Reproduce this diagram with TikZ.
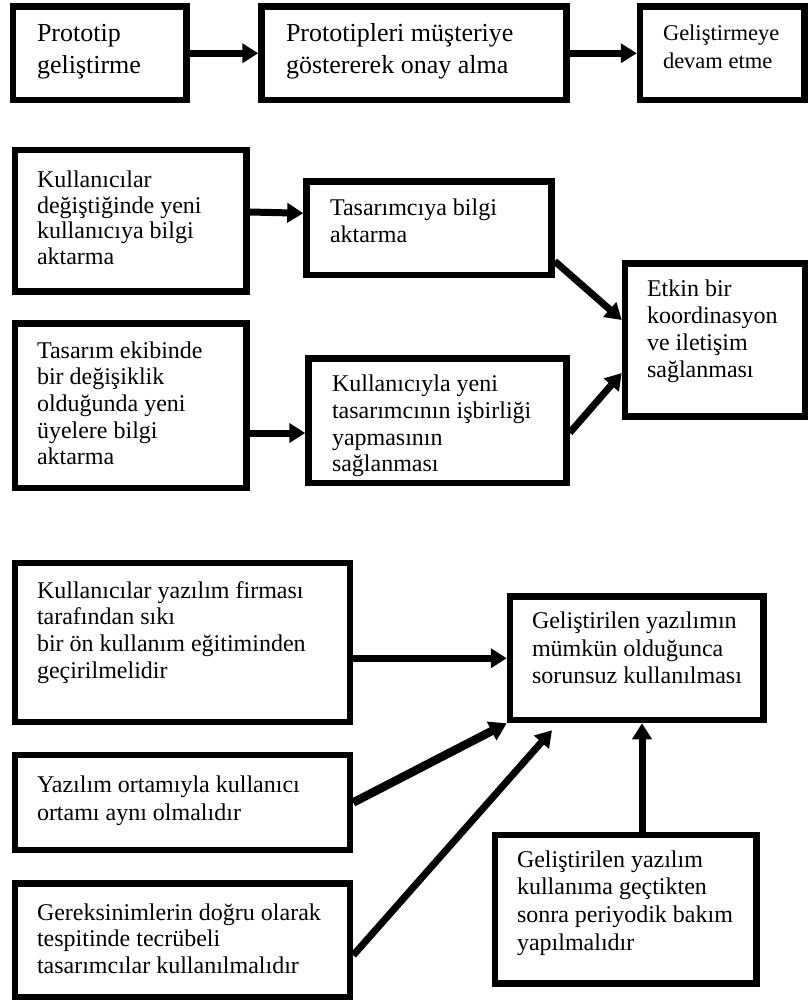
\documentclass[tikz,border=0pt]{standalone}
\usepackage{fontspec}
\setmainfont{Liberation Serif}
\usetikzlibrary{arrows.meta}
\newcommand\bt[3]{\raisebox{#1}[\height][\depth]{\makebox[#2][l]{\begin{tabular}{@{}l@{}}#3\end{tabular}}}}
\begin{document}
\begin{tikzpicture}[x=1pt,y=-1pt,
  box/.style={draw, line width=6.5pt, inner sep=0pt, anchor=center},
  arr/.style={line width=7pt, -{Triangle[length=16pt,width=19pt]}},
  thickarr/.style={line width=8.5pt, -{Triangle[length=17pt,width=20pt]}}]
\useasboundingbox (0,0) rectangle (808,1001);
% top row
\node[box, minimum width=173.5pt, minimum height=93.5pt, font=\fontsize{26}{31.6}\selectfont] (b1) at (99.75,53.25)
  {\bt{2pt}{125.5pt}{Prototip\\geliştirme}};
\node[box, minimum width=305pt, minimum height=93.5pt, font=\fontsize{26}{31.6}\selectfont] (b2) at (414,53.25)
  {\bt{2pt}{256pt}{Prototipleri müşteriye\\göstererek onay alma}};
\node[box, minimum width=164.5pt, minimum height=93.5pt, font=\fontsize{22.5}{28}\selectfont] (b3) at (722.25,53.25)
  {\bt{4.85pt}{118.5pt}{Geliştirmeye\\devam etme}};
% middle
\node[box, minimum width=231.5pt, minimum height=141.5pt, font=\fontsize{24}{25.7}\selectfont] (b4) at (130.75,220.75)
  {\bt{0pt}{187.5pt}{Kullanıcılar\\değiştiğinde yeni\\kullanıcıya bilgi\\aktarma}};
\node[box, minimum width=245pt, minimum height=93.5pt, font=\fontsize{24}{27}\selectfont] (b5) at (429,228.25)
  {\bt{5pt}{198pt}{Tasarımcıya bilgi\\aktarma}};
\node[box, minimum width=180pt, minimum height=153pt, font=\fontsize{24}{26.7}\selectfont] (b6) at (715,340)
  {\bt{8.3pt}{136pt}{Etkin bir\\koordinasyon\\ve iletişim\\sağlanması}};
\node[box, minimum width=231.5pt, minimum height=164.5pt, font=\fontsize{24}{26.7}\selectfont] (b7) at (130.75,405.75)
  {\bt{-0.4pt}{187.5pt}{Tasarım ekibinde\\bir değişiklik\\olduğunda yeni\\üyelere bilgi\\aktarma}};
\node[box, minimum width=258pt, minimum height=124.5pt, font=\fontsize{24}{26.7}\selectfont] (b8) at (437.5,420.75)
  {\bt{-5.7pt}{211pt}{Kullanıcıyla yeni\\tasarımcının işbirliği\\yapmasının\\sağlanması}};
% bottom
\node[box, minimum width=335pt, minimum height=159pt, font=\fontsize{24}{26.7}\selectfont] (b9) at (182.5,642.5)
  {\bt{9.6pt}{291pt}{Kullanıcılar yazılım firması\\tarafından sıkı\\bir ön kullanım eğitiminden\\geçirilmelidir}};
\node[box, minimum width=253.5pt, minimum height=123.5pt, font=\fontsize{24}{27.5}\selectfont] (b10) at (636.75,658.25)
  {\bt{7.75pt}{209.5pt}{Geliştirilen yazılımın\\mümkün olduğunca\\sorunsuz kullanılması}};
\node[box, minimum width=335pt, minimum height=95pt, font=\fontsize{24}{28}\selectfont] (b11) at (182.5,802.5)
  {\bt{2.1pt}{291pt}{Yazılım ortamıyla kullanıcı\\ortamı aynı olmalıdır}};
\node[box, minimum width=335pt, minimum height=113.5pt, font=\fontsize{24}{26.7}\selectfont] (b12) at (182.5,940.25)
  {\bt{-1.1pt}{291pt}{Gereksinimlerin doğru olarak\\tespitinde tecrübeli\\tasarımcılar kullanılmalıdır}};
\node[box, minimum width=261.5pt, minimum height=148.5pt, font=\fontsize{24}{27.7}\selectfont] (b13) at (625.75,909.25)
  {\bt{6pt}{217.5pt}{Geliştirilen yazılım\\kullanıma geçtikten\\sonra periyodik bakım\\yapılmalıdır}};
% connectors
\draw[arr] (b1.east) -- (b2.west);
\draw[arr] (b2.east) -- (b3.west);
\draw[arr] ([yshift=8.75pt]b4.east) -- ([yshift=15pt]b5.west);
\draw[arr] ([yshift=17pt]b5.south east) -- ([yshift=20pt]b6.west);
\draw[arr] ([yshift=-12pt]b8.east) -- ([yshift=-33pt]b6.west);
\draw[arr] ([yshift=-27.25pt]b7.east) -- ([yshift=-12.25pt]b8.west);
\draw[arr] (b9.east |- b10.west) -- (b10.west);
\draw[thickarr] (b11.east) -- (b10.south west);
\draw[arr] ([yshift=-15pt]b12.east) -- ([xshift=-84.75pt,yshift=-7pt]b10.south);
\draw[arr] ([xshift=16.25pt]b13.north) -- ([xshift=5.25pt]b10.south);
\end{tikzpicture}
\end{document}
